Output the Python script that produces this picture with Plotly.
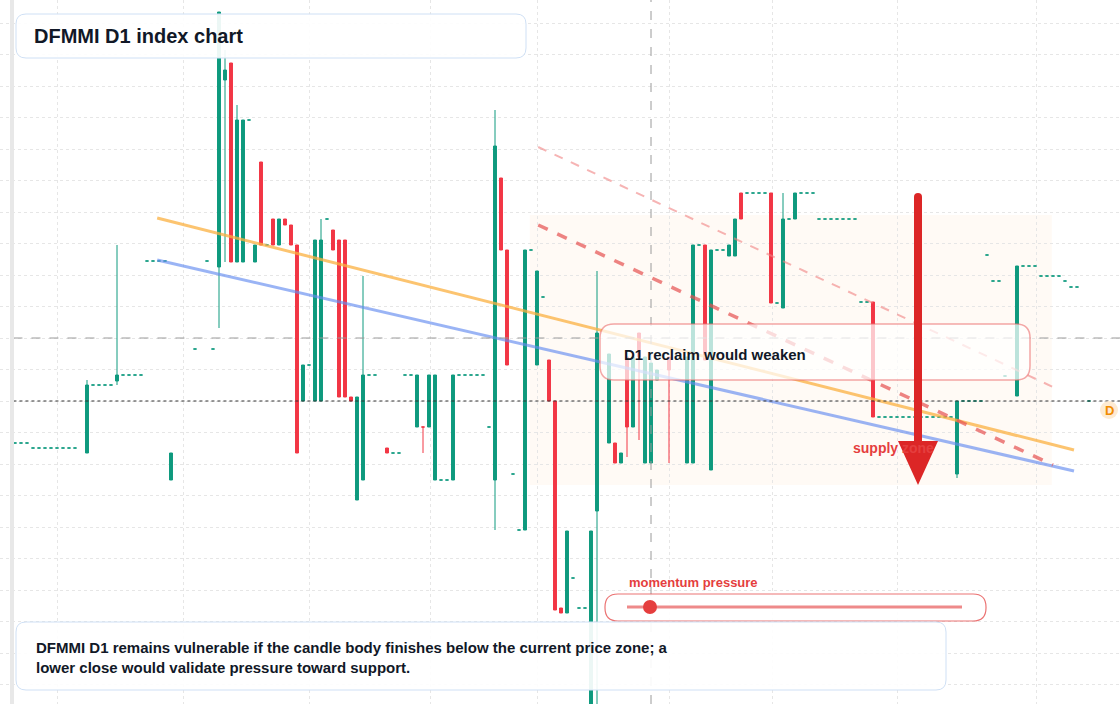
import plotly.graph_objects as go

W, H = 1120, 704
# candles: index, open, high, low, close
candles = [
    (0,26.1,26.1,26.1,26.1),(1,26.1,26.1,26.1,26.1),(2,26.1,26.1,26.1,26.1),
    (3,25.6,25.6,25.6,25.6),(4,25.6,25.6,25.6,25.6),(5,25.6,25.6,25.6,25.6),(6,25.6,25.6,25.6,25.6),
    (7,25.6,25.6,25.6,25.6),(8,25.6,25.6,25.6,25.6),(9,25.6,25.6,25.6,25.6),(10,25.6,25.6,25.6,25.6),
    (12,25.1,32.4,25.1,31.9),(13,31.9,31.9,31.9,31.9),(14,31.9,31.9,31.9,31.9),(15,31.9,31.9,31.9,31.9),(16,31.9,31.9,31.9,31.9),
    (17,32.3,45.9,31.9,32.9),(18,32.9,32.9,32.9,32.9),(19,32.9,32.9,32.9,32.9),(20,32.9,32.9,32.9,32.9),(21,32.9,32.9,32.9,32.9),
    (22,44.3,44.3,44.3,44.3),(23,44.3,44.3,44.3,44.3),(24,44.3,44.3,44.3,44.3),(25,44.3,44.3,44.3,44.3),
    (26,22.4,25.1,22.4,25.1),(30,35.5,35.5,35.5,35.5),(32,44.3,44.3,44.3,44.3),(33,35.5,35.5,35.5,35.5),
    (34,43.7,69.2,37.6,69.2),(35,62.4,65.4,44.2,63.4),(36,64.1,64.1,44.2,44.2),(37,44.2,59.9,44.2,58.4),
    (38,44.2,58.4,44.2,58.4),(39,58.4,58.4,58.4,58.4),(40,44.2,45.9,44.2,45.9),(41,54.2,54.2,45.9,45.9),
    (42,45.9,45.9,45.9,45.9),(43,48.5,48.5,45.9,45.9),(44,45.9,48.5,45.9,48.5),(45,48.5,48.5,47.9,47.9),
    (46,47.9,47.9,45.9,45.9),(47,45.9,45.9,25.1,25.1),(48,30.3,33.9,30.3,33.9),(49,33.9,33.9,33.9,33.9),
    (50,30.3,46.4,30.3,46.4),(51,30.3,48.5,30.3,46.4),(52,48.5,48.5,48.5,48.5),(53,47.4,47.4,45.4,45.4),
    (54,46.4,46.4,30.7,30.7),(55,46.4,46.4,30.7,30.7),(56,30.7,30.7,30.3,30.3),(57,20.4,30.7,20.4,30.7),
    (58,22.4,42.8,22.4,32.9),(59,32.9,32.9,32.9,32.9),(60,32.9,32.9,32.9,32.9),
    (62,25.6,25.6,25.1,25.1),(63,25.1,25.1,25.1,25.1),(64,25.1,25.1,25.1,25.1),
    (65,32.9,32.9,32.9,32.9),(66,32.9,32.9,32.9,32.9),(67,27.7,32.9,27.7,32.9),(68,27.7,27.7,25.1,27.7),
    (69,27.7,32.9,27.7,32.9),(70,22.4,32.9,22.4,32.9),(71,22.4,22.4,22.4,22.4),(72,22.4,22.4,22.4,22.4),
    (73,22.4,32.9,22.4,32.9),(74,32.9,32.9,32.9,32.9),(75,32.9,32.9,32.9,32.9),(76,32.9,32.9,32.9,32.9),
    (77,32.9,32.9,32.9,32.9),(78,32.9,32.9,32.9,32.9),(79,27.7,27.7,27.7,27.7),
    (80,22.4,59.4,17.4,55.8),(81,52.6,52.6,45.4,45.4),(82,45.4,45.4,33.9,33.9),(83,23.0,23.0,23.0,23.0),
    (84,17.4,17.4,17.4,17.4),(85,17.4,45.4,17.4,45.4),(86,45.4,45.4,45.4,45.4),(87,33.9,43.3,33.9,43.3),
    (88,40.7,40.7,40.7,40.7),(89,34.4,34.4,30.3,30.3),(90,30.3,30.3,9.4,9.4),(91,9.6,9.6,9.1,9.1),
    (92,9.1,17.3,9.1,17.3),(93,12.6,12.6,12.6,12.6),(94,9.6,9.6,9.6,9.6),(95,9.6,9.6,9.6,9.6),
    (96,0.0,17.3,0.0,17.3),(97,19.3,43.3,0.0,37.1),(99,26.1,35.0,26.1,35.0),(100,26.1,26.1,24.1,24.1),
    (101,24.1,25.1,24.1,25.1),(102,34.7,34.7,24.7,27.7),(103,27.7,34.7,27.7,34.7),(104,37.1,37.1,26.4,34.7),
    (105,24.1,34.7,24.1,34.7),(106,24.1,34.1,24.1,34.1),(107,32.4,33.4,32.4,33.4),(109,34.7,34.7,24.1,33.4),
    (112,24.1,34.7,24.1,34.7),(113,24.1,45.9,24.1,45.9),(114,45.9,45.9,45.9,45.9),(115,45.9,45.9,34.4,34.4),
    (116,23.4,45.4,23.4,45.4),(117,45.4,45.4,45.4,45.4),(118,45.4,45.4,45.4,45.4),(119,44.8,45.9,44.8,45.9),
    (120,44.8,48.5,44.8,48.5),(121,51.1,51.1,48.5,48.5),(122,51.1,51.1,51.1,51.1),(123,51.1,51.1,51.1,51.1),
    (124,51.1,51.1,51.1,51.1),(125,51.1,51.1,51.1,51.1),(126,51.1,51.1,40.1,40.1),(127,40.1,40.1,40.1,40.1),
    (128,39.6,51.1,39.6,48.5),(129,48.5,48.5,48.5,48.5),(130,48.5,51.1,48.5,51.1),(131,51.1,51.1,51.1,51.1),
    (132,51.1,51.1,51.1,51.1),(133,51.1,51.1,51.1,51.1),(134,48.5,48.5,48.5,48.5),(135,48.5,48.5,48.5,48.5),
    (136,48.5,48.5,48.5,48.5),(137,48.5,48.5,48.5,48.5),(138,48.5,48.5,48.5,48.5),(139,48.5,48.5,48.5,48.5),
    (140,48.5,48.5,48.5,48.5),(141,40.2,40.2,40.2,40.2),(142,40.2,40.2,40.2,40.2),(143,40.2,40.2,28.7,28.7),
    (144,28.7,28.7,28.7,28.7),(145,28.7,28.7,28.7,28.7),(146,28.7,28.7,28.7,28.7),(147,28.7,28.7,28.7,28.7),
    (148,28.7,28.7,28.7,28.7),(149,28.7,28.7,28.7,28.7),(150,28.7,28.7,28.7,28.7),(151,28.7,28.7,28.7,28.7),
    (152,28.7,28.7,28.7,28.7),(153,28.7,28.7,28.7,28.7),(154,28.7,28.7,28.7,28.7),(155,28.7,28.7,28.7,28.7),
    (156,28.7,28.7,28.7,28.7),(157,23.0,30.3,22.6,30.3),(158,30.3,30.3,30.3,30.3),(159,30.3,30.3,30.3,30.3),
    (160,30.3,30.3,30.3,30.3),(161,30.3,30.3,30.3,30.3),(162,44.9,44.9,44.9,44.9),(163,42.3,42.3,42.3,42.3),
    (164,42.3,42.3,42.3,42.3),(165,32.8,32.8,32.8,32.8),(167,30.8,43.8,30.8,43.8),(168,43.8,43.8,43.8,43.8),
    (169,43.8,43.8,43.8,43.8),(170,43.8,43.8,43.8,43.8),(171,42.8,42.8,42.8,42.8),(172,42.8,42.8,42.8,42.8),
    (173,42.8,42.8,42.8,42.8),(174,42.8,42.8,42.8,42.8),(175,42.3,42.3,42.3,42.3),(176,41.7,41.7,41.7,41.7),
    (177,41.7,41.7,41.7,41.7),(179,30.3,30.3,30.3,30.3),
]

orange_line = [(23.7, 48.6), (176.5, 25.4)]
blue_line = [(23.7, 44.4), (176.5, 23.3)]
red_dash = [(87.2, 47.9), (173.0, 23.9)]
light_dash = [(87.2, 55.7), (173.0, 31.7)]
zone = [(85.8, 21.9), (172.8, 48.9)]
cross_x, cross_y, last_price = 106, 36.6, 30.3

GREEN, RED = "#0f9a7e", "#f23645"

def split(flat):
    rows = [c for c in candles if (c[1] == c[4] and c[2] == c[3]) == flat]
    return ([r[0] for r in rows], [r[1] for r in rows], [r[2] for r in rows],
            [r[3] for r in rows], [r[4] for r in rows])

fig = go.Figure()
x, o, h, l, c = split(False)
fig.add_trace(go.Candlestick(
    x=x, open=o, high=h, low=l, close=c,
    increasing=dict(line=dict(color=GREEN, width=1), fillcolor=GREEN),
    decreasing=dict(line=dict(color=RED, width=1), fillcolor=RED),
    whiskerwidth=0, showlegend=False, hoverinfo="skip"))
x, o, h, l, c = split(True)
fig.add_trace(go.Candlestick(
    x=x, open=o, high=h, low=l, close=c,
    increasing=dict(line=dict(color=GREEN, width=1), fillcolor=GREEN),
    decreasing=dict(line=dict(color=GREEN, width=1), fillcolor=GREEN),
    whiskerwidth=0, showlegend=False, hoverinfo="skip"))

def px(x): return x / W
def py(y): return 1 - y / H

def rrect(x0, y0, x1, y1, r):
    p = lambda X, Y: f"{px(X)},{py(Y)}"
    return (f"M {p(x0+r,y0)} L {p(x1-r,y0)} Q {p(x1,y0)} {p(x1,y0+r)} L {p(x1,y1-r)} "
            f"Q {p(x1,y1)} {p(x1-r,y1)} L {p(x0+r,y1)} Q {p(x0,y1)} {p(x0,y1-r)} "
            f"L {p(x0,y0+r)} Q {p(x0,y0)} {p(x0+r,y0)} Z")

shapes = [
    dict(type="rect", xref="x", yref="y", x0=zone[0][0], x1=zone[1][0], y0=zone[0][1], y1=zone[1][1],
         fillcolor="rgba(253,186,116,0.07)", line=dict(width=0), layer="below"),
    dict(type="line", xref="x", yref="y", x0=orange_line[0][0], y0=orange_line[0][1], x1=orange_line[1][0], y1=orange_line[1][1],
         line=dict(color="rgba(251,176,64,0.75)", width=3)),
    dict(type="line", xref="x", yref="y", x0=blue_line[0][0], y0=blue_line[0][1], x1=blue_line[1][0], y1=blue_line[1][1],
         line=dict(color="rgba(100,140,240,0.65)", width=3)),
    dict(type="line", xref="x", yref="y", x0=red_dash[0][0], y0=red_dash[0][1], x1=red_dash[1][0], y1=red_dash[1][1],
         line=dict(color="rgba(230,80,80,0.7)", width=3.5, dash="dash")),
    dict(type="line", xref="x", yref="y", x0=light_dash[0][0], y0=light_dash[0][1], x1=light_dash[1][0], y1=light_dash[1][1],
         line=dict(color="rgba(240,130,130,0.6)", width=2, dash="dash")),
    dict(type="line", xref="x", yref="paper", x0=cross_x, x1=cross_x, y0=0, y1=1,
         line=dict(color="#9a9a9a", width=1, dash="dash")),
    dict(type="line", xref="paper", yref="y", x0=0.012, x1=1, y0=cross_y, y1=cross_y,
         line=dict(color="#9a9a9a", width=1, dash="dash")),
    dict(type="line", xref="paper", yref="y", x0=0.012, x1=1, y0=last_price, y1=last_price,
         line=dict(color="#333333", width=1, dash="dot")),
    dict(type="rect", xref="paper", yref="paper", x0=px(10), x1=px(14), y0=0, y1=1,
         fillcolor="#e8e8e8", line=dict(width=0)),
    dict(type="path", xref="paper", yref="paper", path=rrect(16, 14, 526, 58, 10),
         fillcolor="rgba(255,255,255,0.92)", line=dict(color="#cfe0f5", width=1)),
    dict(type="path", xref="paper", yref="paper", path=rrect(600, 324, 1030, 380, 14),
         fillcolor="rgba(255,255,255,0.72)", line=dict(color="rgba(235,110,110,0.6)", width=1.5)),
    dict(type="line", xref="paper", yref="paper", x0=px(918), x1=px(918), y0=py(197), y1=py(445),
         line=dict(color="#dc2626", width=8)),
    dict(type="circle", xref="paper", yref="paper", x0=px(914), x1=px(922), y0=py(201), y1=py(193),
         fillcolor="#dc2626", line=dict(width=0)),
    dict(type="path", xref="paper", yref="paper",
         path=f"M {px(898)} {py(441)} L {px(938)} {py(441)} L {px(918)} {py(485)} Z",
         fillcolor="#dc2626", line=dict(width=0)),
    dict(type="path", xref="paper", yref="paper", path=rrect(605, 594, 986, 621, 13),
         fillcolor="rgba(255,255,255,0.9)", line=dict(color="rgba(230,80,80,0.8)", width=1.2)),
    dict(type="line", xref="paper", yref="paper", x0=px(627), x1=px(962), y0=py(607), y1=py(607),
         line=dict(color="#ee8a8a", width=3)),
    dict(type="circle", xref="paper", yref="paper", x0=px(643), x1=px(657), y0=py(614), y1=py(600),
         fillcolor="#e53e3e", line=dict(width=0)),
    dict(type="path", xref="paper", yref="paper", path=rrect(16, 622, 946, 690, 10),
         fillcolor="rgba(255,255,255,0.92)", line=dict(color="#cfe0f5", width=1)),
    dict(type="circle", xref="paper", yref="paper", x0=px(1100), x1=px(1118), y0=py(419), y1=py(401),
         fillcolor="#fdebd3", line=dict(width=0)),
]

F = "Liberation Sans, Arial, sans-serif"
annotations = [
    dict(xref="paper", yref="paper", x=px(32), y=py(36), xanchor="left", yanchor="middle", showarrow=False,
         text="<b>DFMMI D1 index chart</b>", font=dict(family=F, size=20, color="#111827")),
    dict(xref="paper", yref="paper", x=px(622), y=py(354), xanchor="left", yanchor="middle", showarrow=False,
         text="<b>D1 reclaim would weaken</b>", font=dict(family=F, size=15, color="#111827")),
    dict(xref="paper", yref="paper", x=px(851), y=py(448), xanchor="left", yanchor="middle", showarrow=False,
         text="<b>supply zone</b>", font=dict(family=F, size=14, color="#e53e3e")),
    dict(xref="paper", yref="paper", x=px(627), y=py(582), xanchor="left", yanchor="middle", showarrow=False,
         text="<b>momentum pressure</b>", font=dict(family=F, size=13, color="#e53e3e")),
    dict(xref="paper", yref="paper", x=px(34), y=py(657), xanchor="left", yanchor="middle", showarrow=False, align="left",
         text="<b>DFMMI D1 remains vulnerable if the candle body finishes below the current price zone; a<br>lower close would validate pressure toward support.</b>",
         font=dict(family=F, size=15, color="#111827")),
    dict(xref="paper", yref="paper", x=px(1109), y=py(410), xanchor="center", yanchor="middle", showarrow=False,
         text="<b>D</b>", font=dict(family=F, size=13, color="#f08c00")),
]

fig.update_layout(
    width=W, height=H, margin=dict(l=0, r=0, t=0, b=0),
    paper_bgcolor="white", plot_bgcolor="white",
    shapes=shapes, annotations=annotations,
    xaxis=dict(range=[-2.5, (W - 15) / 6], rangeslider=dict(visible=False), showticklabels=False,
               tickvals=[7, 28, 49, 69.2, 87, 109, 126.2, 147, 170.2], showgrid=True,
               gridcolor="#e6e6e6", griddash="dot", zeroline=False),
    yaxis=dict(range=[0, 70.4], showticklabels=False, tick0=68.1, dtick=3.15, showgrid=True,
               gridcolor="#e6e6e6", griddash="dot", zeroline=False),
)
fig.write_html("out.html", config={"displayModeBar": False},
               post_script="document.body.style.margin='0';")
